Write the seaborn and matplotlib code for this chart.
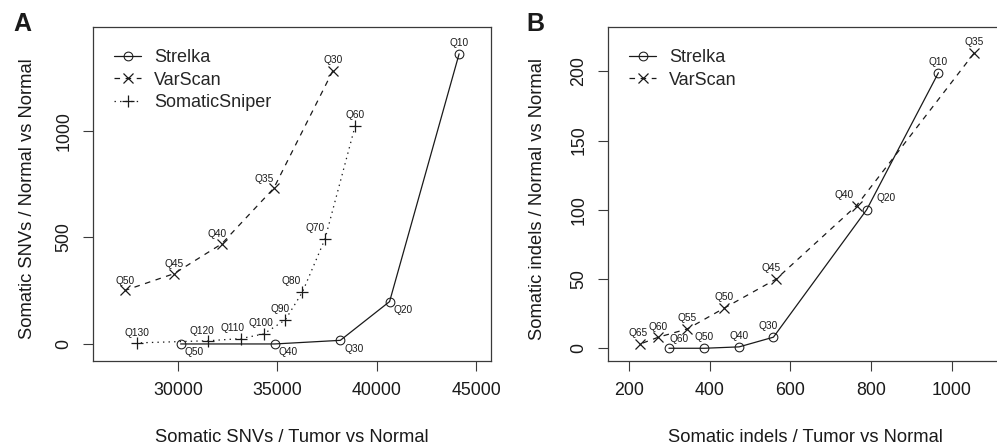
import matplotlib
matplotlib.use("Agg")
import matplotlib.pyplot as plt
import seaborn as sns

### DATA ###

# Panel A: somatic SNVs (x = tumor vs normal, y = normal vs normal)
strelka_snv_x = [44150, 40650, 38170, 34870, 30130]
strelka_snv_y = [1362, 199, 17, 0, 0]
strelka_snv_q = ["Q10", "Q20", "Q30", "Q40", "Q50"]

varscan_snv_x = [37790, 34820, 32200, 29800, 27350]
varscan_snv_y = [1282, 731, 470, 330, 252]
varscan_snv_q = ["Q30", "Q35", "Q40", "Q45", "Q50"]

sniper_snv_x = [38920, 37400, 36260, 35400, 34310, 33150, 31490, 27930]
sniper_snv_y = [1025, 493, 243, 113, 47, 25, 15, 5]
sniper_snv_q = ["Q60", "Q70", "Q80", "Q90", "Q100", "Q110", "Q120", "Q130"]

# Panel B: somatic indels
strelka_indel_x = [967, 789, 558, 473, 387, 299]
strelka_indel_y = [199, 100, 8, 1, 0, 0]
strelka_indel_q = ["Q10", "Q20", "Q30", "Q40", "Q50", "Q60"]

varscan_indel_x = [1055, 764, 565, 436, 345, 273, 227]
varscan_indel_y = [213, 103, 50, 29, 14, 8, 3]
varscan_indel_q = ["Q35", "Q40", "Q45", "Q50", "Q55", "Q60", "Q65"]

# where each Q label sits relative to its point (offset in points)
# labels with a negative dy sit below-right and are left aligned
ABOVE = (0, 8)
offsets_a = {
    "Strelka": [ABOVE, (3, -6), (3, -6), (3, -6), (3, -6)],
    "VarScan": [ABOVE, (-7, 7), (-3, 7), (0, 7), (0, 7)],
    "SomaticSniper": [ABOVE, (-7, 8), (-8, 8), (-4, 8), (-2, 8), (-6, 8), (-4, 7), (0, 7)],
}
offsets_b = {
    "Strelka": [ABOVE, (14, 8.5), (-4, 8), (0, 8), (0, 8), (7, 7)],
    "VarScan": [ABOVE, (-9, 8), (-4, 8), (0, 8), (0, 8), (0, 7), (-1, 8)],
}

### STYLE ###

sns.set_style("ticks")
plt.rcParams['font.family'] = ['Liberation Sans', 'DejaVu Sans']
plt.rcParams['lines.scale_dashes'] = False

ink = "#1a1a1a"
box = "#3a3a3a"

styles = {
    "Strelka": dict(marker="o", ms=6.3, linestyle="-"),
    "VarScan": dict(marker="x", ms=6.8, mew=0.9, linestyle=(0, (4, 4))),
    "SomaticSniper": dict(marker="+", ms=8.8, mew=0.9, linestyle=(0, (1, 3))),
}


def draw_series(ax, name, xs, ys, qs, offs):
    sns.lineplot(x=xs, y=ys, ax=ax, sort=False, color=ink, lw=0.9,
                 mfc="none", mec=ink, label=name, **styles[name])
    for x, y, q, (dx, dy) in zip(xs, ys, qs, offs):
        ha = "left" if dy < 0 else "center"
        ax.annotate(q, (x, y), xytext=(dx, dy), textcoords="offset points",
                    ha=ha, va="center", fontsize=7.3, color=ink)


def style_axes(ax):
    for side in ax.spines.values():
        side.set_color(box)
        side.set_linewidth(0.9)
        side.set_visible(True)
    ax.tick_params(direction="out", length=7, width=0.8, color=box,
                   labelsize=12.8, labelcolor=ink, pad=8)
    for t in ax.get_yticklabels():
        t.set_rotation(90)
        t.set_va("center")
    ax.legend(loc="upper left", frameon=False, fontsize=13, handlelength=1.5,
              handletextpad=0.7, labelspacing=0.3, borderaxespad=0,
              bbox_to_anchor=(0.035, 0.955))


fig = plt.figure(figsize=(9.97, 4.46), dpi=100)
ax_a = fig.add_axes([93 / 997, 85 / 446, 398 / 997, 334 / 446])
ax_b = fig.add_axes([608 / 997, 85 / 446, 395 / 997, 334 / 446])

### PANEL A ###

draw_series(ax_a, "Strelka", strelka_snv_x, strelka_snv_y, strelka_snv_q, offsets_a["Strelka"])
draw_series(ax_a, "VarScan", varscan_snv_x, varscan_snv_y, varscan_snv_q, offsets_a["VarScan"])
draw_series(ax_a, "SomaticSniper", sniper_snv_x, sniper_snv_y, sniper_snv_q, offsets_a["SomaticSniper"])
ax_a.set_xlim(25720, 45755)
ax_a.set_ylim(-80, 1488)
ax_a.set_xticks([30000, 35000, 40000, 45000])
ax_a.set_yticks([0, 500, 1000])
style_axes(ax_a)
ax_a.set_xlabel("Somatic SNVs / Tumor vs Normal", fontsize=13.2, color=ink)
ax_a.set_ylabel("Somatic SNVs / Normal vs Normal", fontsize=13.2, color=ink)
ax_a.xaxis.set_label_coords(0.5, -0.203)
ax_a.yaxis.set_label_coords(-0.142, 0.485)

### PANEL B ###

draw_series(ax_b, "Strelka", strelka_indel_x, strelka_indel_y, strelka_indel_q, offsets_b["Strelka"])
draw_series(ax_b, "VarScan", varscan_indel_x, varscan_indel_y, varscan_indel_q, offsets_b["VarScan"])
ax_b.set_xlim(148, 1127)
ax_b.set_ylim(-9.2, 232)
ax_b.set_xticks([200, 400, 600, 800, 1000])
ax_b.set_yticks([0, 50, 100, 150, 200])
style_axes(ax_b)
ax_b.spines["right"].set_visible(False)
ax_b.set_xlabel("Somatic indels / Tumor vs Normal", fontsize=13.2, color=ink)
ax_b.set_ylabel("Somatic indels / Normal vs Normal", fontsize=13.2, color=ink)
ax_b.xaxis.set_label_coords(0.5, -0.203)
ax_b.yaxis.set_label_coords(-0.158, 0.485)

# panel letters
fig.text(13 / 997, 1 - 31 / 446, "A", fontsize=18, fontweight="bold", color=ink)
fig.text(526 / 997, 1 - 31 / 446, "B", fontsize=18, fontweight="bold", color=ink)

plt.savefig("out.png", dpi=100)
